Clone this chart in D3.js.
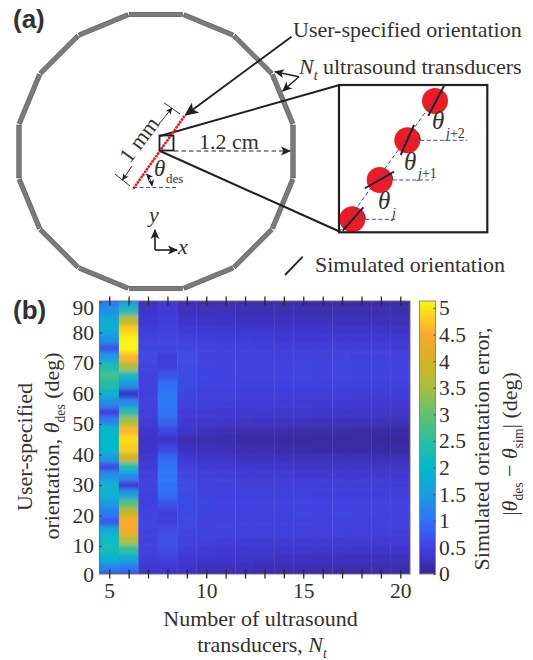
<!DOCTYPE html>
<html>
<head>
<meta charset="utf-8">
<script src="https://cdn.jsdelivr.net/npm/d3@7"></script>
<style>
  html, body { margin: 0; padding: 0; background: #fff; }
  svg { display: block; }
  text { font-family: "Liberation Serif", serif; fill: #333031; }
</style>
</head>
<body>
<div id="chart"></div>
<script>
// data
const transducers = [5, 6, 7, 8, 9, 10, 11, 12, 13, 14, 15, 16, 17, 18, 19, 20];
const orientations = d3.range(0, 91, 3);  // rows, bottom to top
const xTickLabels = [5, 10, 15, 20];
const yTickLabels = [0, 10, 20, 30, 40, 50, 60, 70, 80, 90];
const cbarTicks = [0, 0.5, 1, 1.5, 2, 2.5, 3, 3.5, 4, 4.5, 5];

// simulated orientation error (deg), one line per N_t, theta = 0, 3, ... 90
const err_5  = [0.4,1.2,1.9,2.2,2.1,1.8,0.8,1.1,1.5,1.9,1.9,1.4,0.6,1.5,2.0,2.0,2.0,1.2,0.5,1.3,1.9,2.4,2.7,2.3,1.5,0.7,1.4,1.8,1.8,1.4,1.1];
const err_6  = [0.4,1.1,1.8,2.6,3.6,4.4,4.5,3.9,2.9,1.6,0.4,1.3,2.3,3.9,4.8,4.9,4.6,3.5,2.5,1.3,0.3,1.4,2.2,3.6,4.6,5.1,5.1,4.8,3.8,2.4,1.5];
const err_7  = [0.25,0.35,0.42,0.48,0.5,0.53,0.55,0.52,0.5,0.5,0.5,0.45,0.4,0.35,0.28,0.28,0.3,0.38,0.45,0.48,0.5,0.5,0.5,0.55,0.6,0.55,0.5,0.45,0.35,0.3,0.25];
const err_8  = [0.25,0.35,0.5,0.6,0.65,0.6,0.45,0.45,0.7,0.95,1.0,1.05,1.0,0.9,0.55,0.3,0.55,0.85,1.0,1.05,1.05,0.95,0.7,0.45,0.4,0.55,0.55,0.5,0.45,0.4,0.35];
const err_9  = [0.2,0.3,0.35,0.42,0.5,0.55,0.6,0.6,0.6,0.6,0.6,0.52,0.45,0.35,0.25,0.2,0.3,0.35,0.4,0.48,0.55,0.58,0.6,0.6,0.6,0.55,0.45,0.38,0.3,0.25,0.2];
const err_10 = [0.18,0.25,0.32,0.38,0.45,0.5,0.52,0.55,0.55,0.52,0.5,0.45,0.4,0.3,0.22,0.18,0.25,0.32,0.4,0.45,0.5,0.52,0.55,0.55,0.52,0.48,0.42,0.35,0.28,0.22,0.18];
const err_11 = [0.18,0.22,0.3,0.35,0.42,0.48,0.5,0.52,0.52,0.5,0.45,0.42,0.35,0.28,0.2,0.17,0.22,0.3,0.36,0.42,0.48,0.52,0.52,0.52,0.5,0.45,0.4,0.34,0.26,0.22,0.18];
const err_12 = [0.17,0.22,0.28,0.34,0.4,0.46,0.5,0.52,0.52,0.48,0.44,0.38,0.32,0.25,0.18,0.15,0.2,0.27,0.34,0.4,0.46,0.5,0.52,0.52,0.48,0.44,0.38,0.32,0.25,0.2,0.17];
const err_13 = [0.16,0.2,0.27,0.33,0.4,0.46,0.5,0.53,0.53,0.48,0.44,0.38,0.3,0.24,0.18,0.14,0.19,0.26,0.33,0.4,0.46,0.5,0.53,0.53,0.48,0.43,0.37,0.31,0.25,0.2,0.16];
const err_14 = [0.16,0.2,0.26,0.32,0.39,0.45,0.5,0.52,0.52,0.47,0.43,0.37,0.3,0.23,0.17,0.13,0.18,0.25,0.32,0.39,0.45,0.5,0.52,0.52,0.47,0.42,0.36,0.3,0.24,0.19,0.16];
const err_15 = [0.16,0.2,0.26,0.32,0.38,0.45,0.5,0.54,0.54,0.48,0.43,0.36,0.29,0.22,0.16,0.12,0.17,0.24,0.31,0.38,0.45,0.5,0.54,0.54,0.48,0.42,0.36,0.3,0.24,0.19,0.15];
const err_16 = [0.15,0.19,0.25,0.31,0.38,0.44,0.49,0.52,0.52,0.46,0.42,0.36,0.28,0.22,0.15,0.12,0.16,0.23,0.3,0.37,0.44,0.49,0.52,0.52,0.47,0.42,0.36,0.3,0.23,0.18,0.15];
const err_17 = [0.15,0.19,0.25,0.31,0.37,0.44,0.49,0.54,0.53,0.46,0.41,0.35,0.28,0.21,0.15,0.11,0.16,0.23,0.3,0.37,0.44,0.49,0.54,0.54,0.47,0.41,0.35,0.29,0.23,0.18,0.15];
const err_18 = [0.15,0.18,0.24,0.3,0.37,0.44,0.49,0.52,0.52,0.46,0.41,0.35,0.28,0.21,0.15,0.11,0.15,0.22,0.29,0.36,0.43,0.49,0.52,0.52,0.46,0.41,0.35,0.29,0.23,0.18,0.14];
const err_19 = [0.15,0.18,0.24,0.3,0.36,0.43,0.49,0.53,0.53,0.46,0.41,0.35,0.27,0.2,0.14,0.1,0.15,0.22,0.29,0.36,0.43,0.49,0.53,0.53,0.46,0.41,0.35,0.29,0.23,0.18,0.14];
const err_20 = [0.14,0.18,0.24,0.3,0.36,0.42,0.48,0.52,0.52,0.45,0.4,0.34,0.27,0.2,0.14,0.1,0.15,0.21,0.28,0.35,0.42,0.48,0.52,0.52,0.45,0.4,0.34,0.28,0.22,0.17,0.14];
const errors = [err_5, err_6, err_7, err_8, err_9, err_10, err_11, err_12, err_13, err_14, err_15, err_16, err_17, err_18, err_19, err_20];

// colour bar stops as they look in the picture
const cbarValues = [0, 0.15, 0.3, 0.5, 1, 1.5, 2, 2.5, 3, 3.5, 4, 4.5, 5.13];
const cbarColors = ["#38288f", "#3b2ca6", "#3e36cc", "#4040e0", "#2f72f5", "#1b9be2", "#03b8c9", "#2cbea0", "#60c26e", "#a6c03e", "#d4b222", "#fba82e", "#f8f812"];

const width = 533, height = 660;
const red = "#ed1c24", blue = "#3a4aa8", ink = "#231f20";
const fontSize = 22;

const svg = d3.select("#chart").append("svg")
  .attr("width", width)
  .attr("height", height);
const defs = svg.append("defs");

function add_marker(id, size) {
  defs.append("marker")
    .attr("id", id)
    .attr("viewBox", "0 0 10 10")
    .attr("refX", 9).attr("refY", 5)
    .attr("markerUnits", "userSpaceOnUse")
    .attr("markerWidth", size).attr("markerHeight", size)
    .attr("orient", "auto-start-reverse")
    .append("path")
    .attr("d", "M0,0.5L10,5L0,9.5L2.5,5Z")
    .attr("fill", ink);
}
add_marker("arrow", 10);
add_marker("arrowBig", 14);
add_marker("arrowSmall", 7);

// mixed italic / subscript text
function rich(parent, x, y, parts, size, anchor) {
  const t = parent.append("text")
    .attr("x", x).attr("y", y)
    .attr("font-size", size)
    .attr("text-anchor", anchor || "start");
  let drop = 0;
  parts.forEach(p => {
    const s = t.append("tspan").text(p.t);
    if (p.i) s.attr("font-style", "italic");
    const want = p.sub ? size * 0.28 : 0;
    if (want != drop) { s.attr("dy", want - drop); drop = want; }
    if (p.sub) s.attr("font-size", size * 0.62);
  });
  return t;
}

function seg(parent, x1, y1, x2, y2, stroke, w) {
  return parent.append("line")
    .attr("x1", x1).attr("y1", y1).attr("x2", x2).attr("y2", y2)
    .attr("stroke", stroke || ink).attr("stroke-width", w || 2);
}

// ---------- panel (a) ----------
const a = svg.append("g");
rich(a, 13, 28, [{t: "(a)"}], 26).style("font-family", "'Liberation Sans', sans-serif").style("font-weight", "bold");

const cx = 156, cy = 151.5, ringR = 137;
a.selectAll("rect.bar").data(d3.range(16)).enter().append("rect")
  .attr("class", "bar")
  .attr("x", -26.5).attr("y", -ringR - 2.2)
  .attr("width", 53).attr("height", 4.4)
  .attr("transform", d => `translate(${cx},${cy}) rotate(${d * 22.5})`)
  .attr("fill", "#7b7b7d").attr("stroke", "#3a3a3c").attr("stroke-width", 0.5);

// zoom lines to the inset
seg(a, 160, 136, 339.5, 85, ink, 2);
seg(a, 160, 151, 339.5, 231.5, ink, 2);

// user specified line
seg(a, 133, 189.5, 184.5, 116, blue, 1).attr("stroke-dasharray", "3 2");
seg(a, 133.5, 188.5, 184.5, 116, red, 2.6).attr("stroke-dasharray", "2.4 0.8");
seg(a, 133, 187.5, 178, 187.5, blue, 1).attr("stroke-dasharray", "4 2.5");

a.append("rect").attr("x", 159.5).attr("y", 135.5).attr("width", 14).attr("height", 15)
  .attr("fill", "none").attr("stroke", ink).attr("stroke-width", 1.8);

// 1.2 cm
seg(a, 174, 151, 290, 151, ink, 1).attr("stroke-dasharray", "4.5 3").attr("marker-end", "url(#arrow)");
rich(a, 229, 148.5, [{t: "1.2 cm"}], fontSize, "middle");

// 1 mm bracket
seg(a, 164, 102.7, 180, 114, ink, 0.9);
seg(a, 115, 174, 130, 186, ink, 0.9);
seg(a, 159, 124, 172, 108, ink, 0.9).attr("marker-end", "url(#arrowSmall)");
seg(a, 132, 166, 122.5, 180, ink, 0.9).attr("marker-end", "url(#arrowSmall)");
a.append("g").attr("transform", "translate(145,144) rotate(-53)")
  .call(g => rich(g, 0, 0, [{t: "1 mm"}], fontSize, "middle"));

// theta des
a.append("path").attr("d", "M146.5,174 Q151,179 152,186")
  .attr("fill", "none").attr("stroke", ink).attr("stroke-width", 0.9)
  .attr("marker-start", "url(#arrowSmall)").attr("marker-end", "url(#arrowSmall)");
rich(a, 154, 176, [{t: "θ", i: 1}], 23);
rich(a, 166, 183, [{t: "des"}], 13);

// axes glyph
seg(a, 155, 250, 155, 230, ink, 1.6).attr("marker-end", "url(#arrow)");
seg(a, 155, 250, 177, 250, ink, 1.6).attr("marker-end", "url(#arrow)");
rich(a, 154, 222, [{t: "y", i: 1}], fontSize, "middle");
rich(a, 178, 254, [{t: "x", i: 1}], fontSize);

// labels with arrows
seg(a, 291.5, 36.7, 185.5, 115, ink, 1.9).attr("marker-end", "url(#arrowBig)");
rich(a, 293, 37, [{t: "User-specified orientation"}], fontSize);
seg(a, 299, 76.7, 275, 71.7, ink, 1.4).attr("marker-end", "url(#arrow)");
seg(a, 299, 76.7, 282.7, 91, ink, 1.4).attr("marker-end", "url(#arrow)");
rich(a, 299, 74, [{t: "N", i: 1}, {t: "t", i: 1, sub: 1}], fontSize);
rich(a, 323, 74, [{t: "ultrasound transducers"}], fontSize);

seg(a, 285, 275, 302.7, 256.7, ink, 1.8);
rich(a, 315, 272, [{t: "Simulated orientation"}], fontSize);

// inset
const inset = a.append("g");
const insetDots = [[435, 101], [407.3, 140.3], [379.7, 180], [352.3, 219.3]];
const dashEnds = [null, 467.3, 433.3, 395];
const simLines = [[428.3, 115.7, 444, 86], [400.7, 155, 414, 125], [365, 188.3, 394, 171.7], [342.7, 230.7, 363.3, 207.3]];
const arcAngles = [0, 68, 32, 50];

inset.selectAll("circle").data(insetDots).enter().append("circle")
  .attr("cx", d => d[0]).attr("cy", d => d[1]).attr("r", 13)
  .attr("fill", red);
seg(inset, 339, 232.3, 445, 85, blue, 1).attr("stroke-dasharray", "4 2.5");
insetDots.forEach((d, i) => {
  if (dashEnds[i]) seg(inset, d[0], d[1], dashEnds[i], d[1], blue, 1).attr("stroke-dasharray", "4 2.5");
  if (arcAngles[i]) {
    const r = 13, t = arcAngles[i] * Math.PI / 180;
    inset.append("path")
      .attr("d", `M${d[0] + r},${d[1]}A${r},${r} 0 0 0 ${d[0] + r * Math.cos(t)},${d[1] - r * Math.sin(t)}`)
      .attr("fill", "none").attr("stroke", ink).attr("stroke-width", 0.8);
  }
});
simLines.forEach(l => seg(inset, l[0], l[1], l[2], l[3], ink, 1.9));
inset.append("rect").attr("x", 339).attr("y", 85).attr("width", 148.3).attr("height", 147.3)
  .attr("fill", "none").attr("stroke", ink).attr("stroke-width", 2.2);

rich(inset, 432, 129, [{t: "θ", i: 1}], 25);
rich(inset, 446, 138, [{t: "j", i: 1}, {t: "+2"}], 14);
rich(inset, 404, 169.5, [{t: "θ", i: 1}], 25);
rich(inset, 418, 178, [{t: "j", i: 1}, {t: "+1"}], 14);
rich(inset, 378, 209, [{t: "θ", i: 1}], 25);
rich(inset, 392, 218, [{t: "j", i: 1}], 14);

// ---------- panel (b) ----------
rich(svg, 13, 319, [{t: "(b)"}], 26).style("font-family", "'Liberation Sans', sans-serif").style("font-weight", "bold");

const frame = {left: 99.5, right: 410, top: 301, bottom: 574};
const x = d3.scaleLinear().domain([4.5, 20.5]).range([frame.left, frame.right]);
const y = d3.scaleLinear().domain([0, 90]).range([576.5, 302]);
const color = d3.scaleLinear().domain(cbarValues).range(cbarColors).clamp(true);

defs.append("clipPath").attr("id", "plotClip").append("rect")
  .attr("x", frame.left).attr("y", frame.top)
  .attr("width", frame.right - frame.left).attr("height", frame.bottom - frame.top);
defs.append("filter").attr("id", "soften")
  .attr("x", "-5%").attr("y", "-5%").attr("width", "110%").attr("height", "110%")
  .append("feGaussianBlur").attr("stdDeviation", "0.6 2.2");

const cells = [];
transducers.forEach((n, i) => orientations.forEach((th, j) => cells.push({n: n, th: th, v: errors[i][j]})));

const b = svg.append("g");
b.append("g").attr("clip-path", "url(#plotClip)")
  .append("g").attr("filter", "url(#soften)")
  .selectAll("rect").data(cells).enter().append("rect")
  // outer cells run past the frame so the blur does not fade at the edge
  .attr("x", d => x(d.n - 0.5) - (d.n == 5 ? 6 : 0))
  .attr("width", d => x(d.n + 0.5) - x(d.n - 0.5) + (d.n == 5 || d.n == 20 ? 6 : 0) + 0.3)
  .attr("y", d => y(d.th + 1.5) - (d.th == 90 ? 8 : 0))
  .attr("height", d => y(d.th - 1.5) - y(d.th + 1.5) + (d.th == 90 || d.th == 0 ? 8 : 0) + 0.3)
  .attr("fill", d => color(d.v));

b.append("rect")
  .attr("x", frame.left).attr("y", frame.top)
  .attr("width", frame.right - frame.left).attr("height", frame.bottom - frame.top)
  .attr("fill", "none").attr("stroke", "#6f6f78").attr("stroke-width", 1);

function style_axis(g, tickColor) {
  g.select(".domain").remove();
  g.selectAll(".tick line").attr("stroke", tickColor).attr("stroke-width", 1.3);
  g.selectAll(".tick text").attr("font-family", "Liberation Serif").attr("fill", "#333031");
}

// ticks straddle the frame top and bottom
b.append("g").attr("transform", `translate(0,${frame.bottom + 4.5})`)
  .call(d3.axisBottom(x).tickValues(transducers).tickSize(-9).tickFormat(""))
  .call(style_axis, "#2b2829");
b.append("g").attr("transform", `translate(0,${frame.top + 4.5})`)
  .call(d3.axisBottom(x).tickValues(transducers).tickSize(-9).tickFormat(""))
  .call(style_axis, "#2b2829");
b.append("g").attr("transform", `translate(0,${frame.bottom})`)
  .call(d3.axisBottom(x).tickValues(xTickLabels).tickSize(0).tickPadding(9))
  .call(style_axis, "none")
  .selectAll("text").attr("font-size", 21.5);

b.append("g").attr("transform", `translate(${frame.left},0)`)
  .call(d3.axisLeft(y).tickValues(yTickLabels.slice(1)).tickSize(-2).tickFormat(""))
  .call(style_axis, "#3a3a44");
b.append("g").attr("transform", `translate(${frame.left},0)`)
  .call(d3.axisLeft(y).tickValues(yTickLabels).tickSize(0).tickPadding(5.5))
  .call(style_axis, "none")
  .selectAll("text").attr("font-size", 21.5)
  .attr("dy", d => d == 90 ? "0.56em" : d == 0 ? "0.22em" : "0.32em");

// colour bar
const cbar = {left: 419.5, right: 435.5};
const cbarScale = d3.scaleLinear().domain([0, 5.13]).range([frame.bottom, frame.top]);
const grad = defs.append("linearGradient").attr("id", "cbarGrad")
  .attr("x1", 0).attr("y1", 1).attr("x2", 0).attr("y2", 0);
cbarValues.forEach((v, i) => grad.append("stop")
  .attr("offset", v / 5.13).attr("stop-color", cbarColors[i]));

b.append("rect")
  .attr("x", cbar.left).attr("y", frame.top)
  .attr("width", cbar.right - cbar.left).attr("height", frame.bottom - frame.top)
  .attr("fill", "url(#cbarGrad)").attr("stroke", "#8a8a8a").attr("stroke-width", 1);
b.append("g").attr("transform", `translate(${cbar.right},0)`)
  .call(d3.axisRight(cbarScale).tickValues(cbarTicks).tickSize(-2).tickFormat(""))
  .call(style_axis, "#55555c");
b.append("g").attr("transform", `translate(${cbar.right},0)`)
  .call(d3.axisRight(cbarScale).tickValues(cbarTicks).tickSize(0).tickPadding(3.5).tickFormat(d3.format("")))
  .call(style_axis, "none")
  .selectAll("text").attr("font-size", 21.5)
  .attr("dy", "0.32em");

// axis titles
rich(b, 260.5, 626, [{t: "Number of ultrasound"}], fontSize, "middle");
rich(b, 262, 652, [{t: "transducers, "}, {t: "N", i: 1}, {t: "t", i: 1, sub: 1}], fontSize, "middle");

function rotated(px, py, parts) {
  const g = b.append("g").attr("transform", `translate(${px},${py}) rotate(-90)`);
  rich(g, 0, 0, parts, fontSize, "middle");
}
rotated(32, 447, [{t: "User-specified"}]);
rotated(58.5, 446, [{t: "orientation, "}, {t: "θ", i: 1}, {t: "des", sub: 1}, {t: " (deg)"}]);
rotated(488.5, 449, [{t: "Simulated orientation error,"}]);
rotated(516.5, 444, [{t: "|"}, {t: "θ", i: 1}, {t: "des", sub: 1}, {t: " − "}, {t: "θ", i: 1}, {t: "sim", sub: 1}, {t: "| (deg)"}]);
</script>
</body>
</html>
